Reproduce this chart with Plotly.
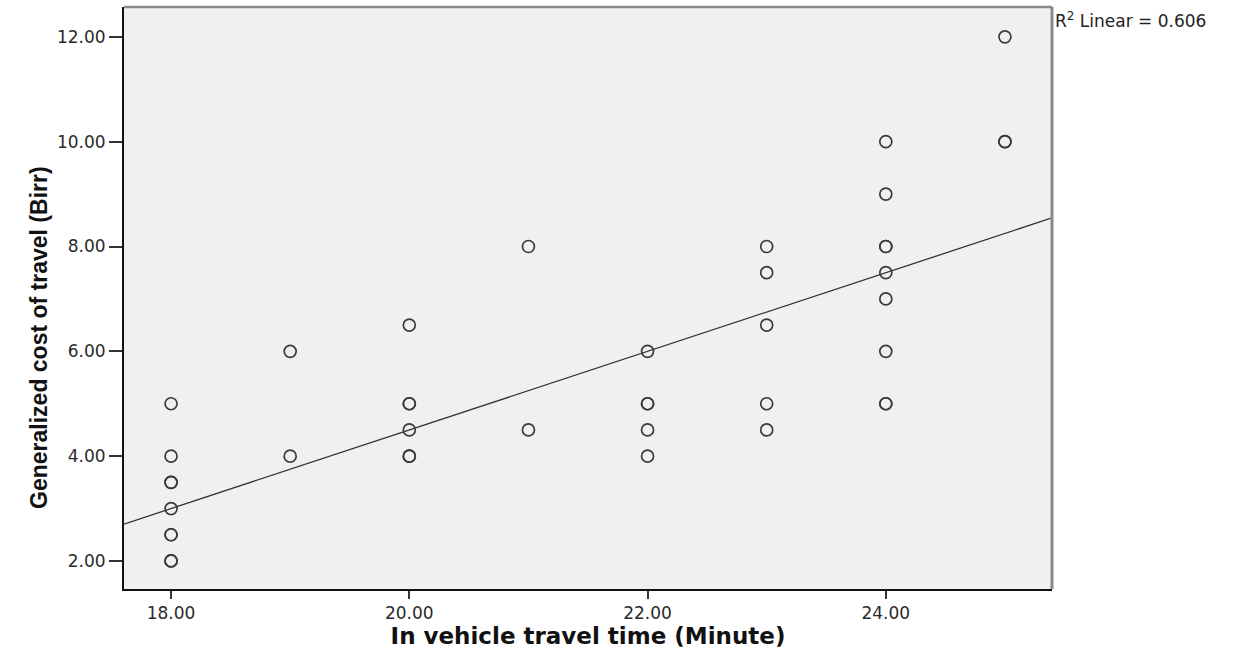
import plotly.graph_objects as go

# Survey observations: in-vehicle travel time (minutes) vs generalized cost (Birr).
# Repeated pairs are listed once per respondent, so they overprint darker.
travel_time = [
    18, 18, 18, 18, 18, 18, 18, 18, 18,
    19, 19,
    20, 20, 20, 20, 20, 20,
    21, 21,
    22, 22, 22, 22, 22,
    23, 23, 23, 23, 23,
    24, 24, 24, 24, 24, 24, 24, 24, 24,
    25, 25, 25,
]
generalized_cost = [
    5.0, 4.0, 3.5, 3.5, 3.0, 2.5, 2.5, 2.0, 2.0,
    6.0, 4.0,
    6.5, 5.0, 5.0, 4.5, 4.0, 4.0,
    8.0, 4.5,
    6.0, 5.0, 5.0, 4.5, 4.0,
    8.0, 7.5, 6.5, 5.0, 4.5,
    10.0, 9.0, 8.0, 8.0, 7.5, 7.0, 6.0, 5.0, 5.0,
    12.0, 10.0, 10.0,
]

# Fitted linear model reported with the chart
fit_slope = 0.75
fit_intercept = -10.5
r_squared = 0.606

x_range = [17.605, 25.395]
y_range = [1.465, 12.57]
x_ticks = [18, 20, 22, 24]
y_ticks = [2, 4, 6, 8, 10, 12]

fit_x = list(x_range)
fit_y = [fit_intercept + fit_slope * v for v in fit_x]

tick_font = dict(family="DejaVu Sans", size=17, color="#2a2a2a")

fig = go.Figure()
fig.add_trace(go.Scatter(
    x=fit_x, y=fit_y, mode="lines",
    line=dict(color="#333333", width=1.3),
    hoverinfo="skip", showlegend=False,
))
fig.add_trace(go.Scatter(
    x=travel_time, y=generalized_cost, mode="markers",
    marker=dict(symbol="circle-open", size=12, color="#3a3a3a",
                line=dict(width=1.7, color="#3a3a3a")),
    showlegend=False,
))

fig.update_layout(
    width=1237, height=655,
    margin=dict(l=124, r=185, t=7, b=66),
    paper_bgcolor="white",
    plot_bgcolor="#f0f0f0",
    xaxis=dict(
        range=x_range, tickvals=x_ticks,
        ticktext=[f"{v:.2f}" for v in x_ticks],
        showgrid=False, zeroline=False,
        showline=True, linecolor="#111111", linewidth=2,
        ticks="outside", ticklen=8, tickwidth=2, tickcolor="#333333",
        tickfont=tick_font,
        title=dict(text="<b>In vehicle travel time (Minute)</b>",
                   font=dict(family="DejaVu Sans", size=23, color="#111111"),
                   standoff=4),
    ),
    yaxis=dict(
        range=y_range, tickvals=y_ticks,
        ticktext=[f"{v:.2f}" for v in y_ticks],
        showgrid=False, zeroline=False,
        showline=True, linecolor="#111111", linewidth=2,
        ticks="outside", ticklen=13, tickwidth=2, tickcolor="#333333",
        tickfont=tick_font,
    ),
    shapes=[
        # top and right frame edges in grey
        dict(type="line", xref="paper", yref="paper", x0=0, x1=1, y0=1, y1=1,
             line=dict(color="#8a8a8a", width=2.5)),
        dict(type="line", xref="paper", yref="paper", x0=1, x1=1, y0=0, y1=1,
             line=dict(color="#8a8a8a", width=3)),
    ],
    annotations=[
        dict(text="<b>Generalized cost of travel (Birr)</b>",
             xref="paper", yref="paper", x=-0.1078, y=0.433,
             textangle=-90, showarrow=False,
             font=dict(family="Liberation Sans", size=23, color="#111111")),
        dict(text=f"R<sup>2</sup> Linear = {r_squared:.3f}",
             xref="paper", yref="paper", x=1, y=1, xshift=1, yshift=0,
             xanchor="left", yanchor="top", showarrow=False,
             font=dict(family="DejaVu Sans", size=17, color="#222222")),
    ],
)

fig.write_html("out.html")
